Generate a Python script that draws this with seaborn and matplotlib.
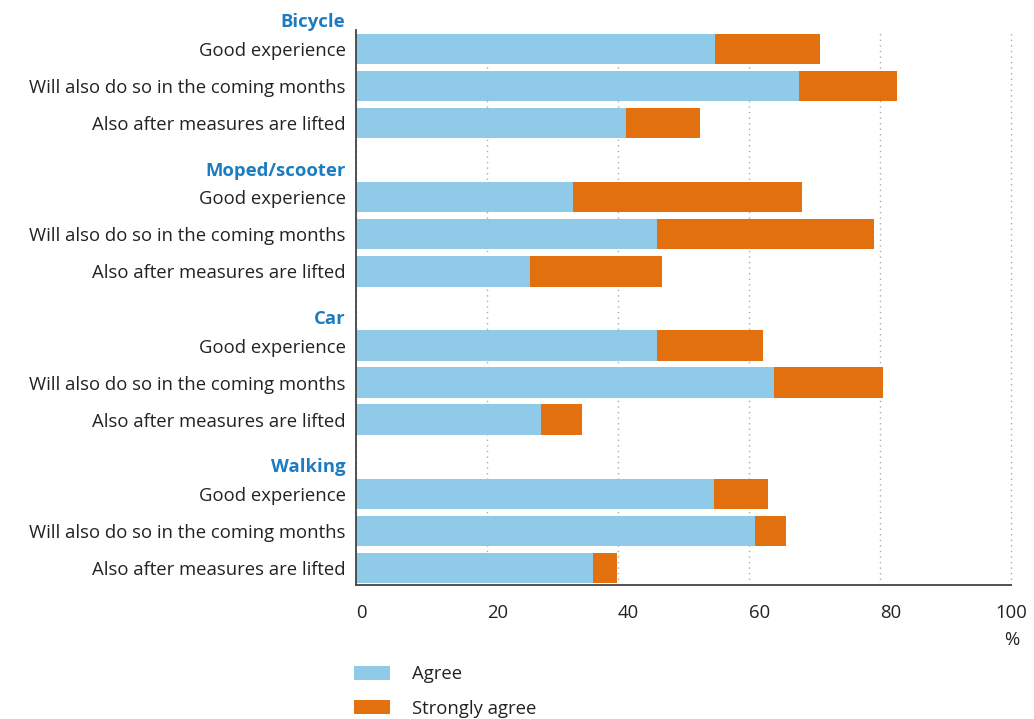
import numpy as np
import pandas as pd
import matplotlib
matplotlib.use("Agg")
import matplotlib.pyplot as plt
import matplotlib.transforms as mtransforms
from matplotlib.patches import Patch
import seaborn as sns

groups = ["Bicycle", "Moped/scooter", "Car", "Walking"]
items = ["Good experience", "Will also do so in the coming months", "Also after measures are lifted"]
agree = [54.8, 67.6, 41.2,
         33.1, 46.0, 26.6,
         46.0, 63.8, 28.2,
         54.7, 60.9, 36.2]
strongly_agree = [16.0, 15.0, 11.3,
                  35.0, 33.1, 20.1,
                  16.1, 16.7, 6.3,
                  8.2, 4.7, 3.6]
xticks = [0, 20, 40, 60, 80, 100]

BLUE = "#8fcae8"
ORANGE = "#e2700e"
HEAD = "#1b7cc0"
TEXT = "#222222"
FS = 13.3

sns.set_theme(style="white")
plt.rcParams["font.family"] = ["Open Sans", "DejaVu Sans"]

rows = []
for g, grp in enumerate(groups):
    for i, it in enumerate(items):
        k = g * 3 + i
        rows.append({"group": grp, "item": it, "pos": 4 * g + i,
                     "agree": agree[k], "total": agree[k] + strongly_agree[k]})
df = pd.DataFrame(rows)

fig = plt.figure(figsize=(10.34, 7.19), dpi=100)
ax = fig.add_axes([356 / 1034, 1 - 585 / 719, (1011 - 356) / 1034, (585 - 30) / 719])

sns.barplot(data=df, x="total", y="pos", orient="h", native_scale=True,
            color=ORANGE, saturation=1, width=0.82, ax=ax, errorbar=None, linewidth=0)
sns.barplot(data=df, x="agree", y="pos", orient="h", native_scale=True,
            color=BLUE, saturation=1, width=0.82, ax=ax, errorbar=None, linewidth=0)

# y tick labels for items
ax.set_yticks(df["pos"].tolist())
ax.set_yticklabels(df["item"].tolist(), fontsize=FS, color=TEXT)
ax.tick_params(axis="y", length=0, pad=7.5)

# group headers
head_tr = mtransforms.offset_copy(ax.get_yaxis_transform(), fig=fig, x=-10.5, y=0, units="dots")
for g, grp in enumerate(groups):
    ax.text(0, 4 * g - 0.72, grp, transform=head_tr, ha="right", va="center",
            fontsize=FS, fontweight="bold", color=HEAD, clip_on=False)

ax.set_xticks(xticks)
ax.set_xticklabels([str(v) for v in xticks], fontsize=FS, color=TEXT)
for lab, v in zip(ax.get_xticklabels(), xticks):
    lab.set_horizontalalignment("center" if v == 100 else "left")
ax.tick_params(axis="x", direction="in", length=4, color="#999999", pad=14)

ax.set_xlim(0, 100)
ax.set_ylim(14.46, -0.51)

ax.set_xlabel("")
ax.set_ylabel("")
ax.xaxis.grid(True, linestyle=(0, (1, 3)), color="#aaaaaa", linewidth=1)
for gl in ax.get_xgridlines():
    gl.set_clip_on(False)
ax.yaxis.grid(False)
ax.set_axisbelow(True)
for s in ["top", "right"]:
    ax.spines[s].set_visible(False)
for s in ["left", "bottom"]:
    ax.spines[s].set_color("#444444")
    ax.spines[s].set_linewidth(1.3)

fig.text(1012 / 1034, 1 - 640 / 719, "%", ha="center", va="center", fontsize=FS, color=TEXT)

handles = [Patch(facecolor=BLUE, edgecolor="none", label="Agree"),
           Patch(facecolor=ORANGE, edgecolor="none", label="Strongly agree")]
fig.legend(handles=handles, loc="upper left", bbox_to_anchor=(354 / 1034, 1 - 665 / 719),
           frameon=False, fontsize=FS, handlelength=1.95, handleheight=0.8,
           handletextpad=1.2, labelspacing=0.9, borderpad=0, borderaxespad=0,
           labelcolor=TEXT)

fig.savefig("out.png", dpi=100)
